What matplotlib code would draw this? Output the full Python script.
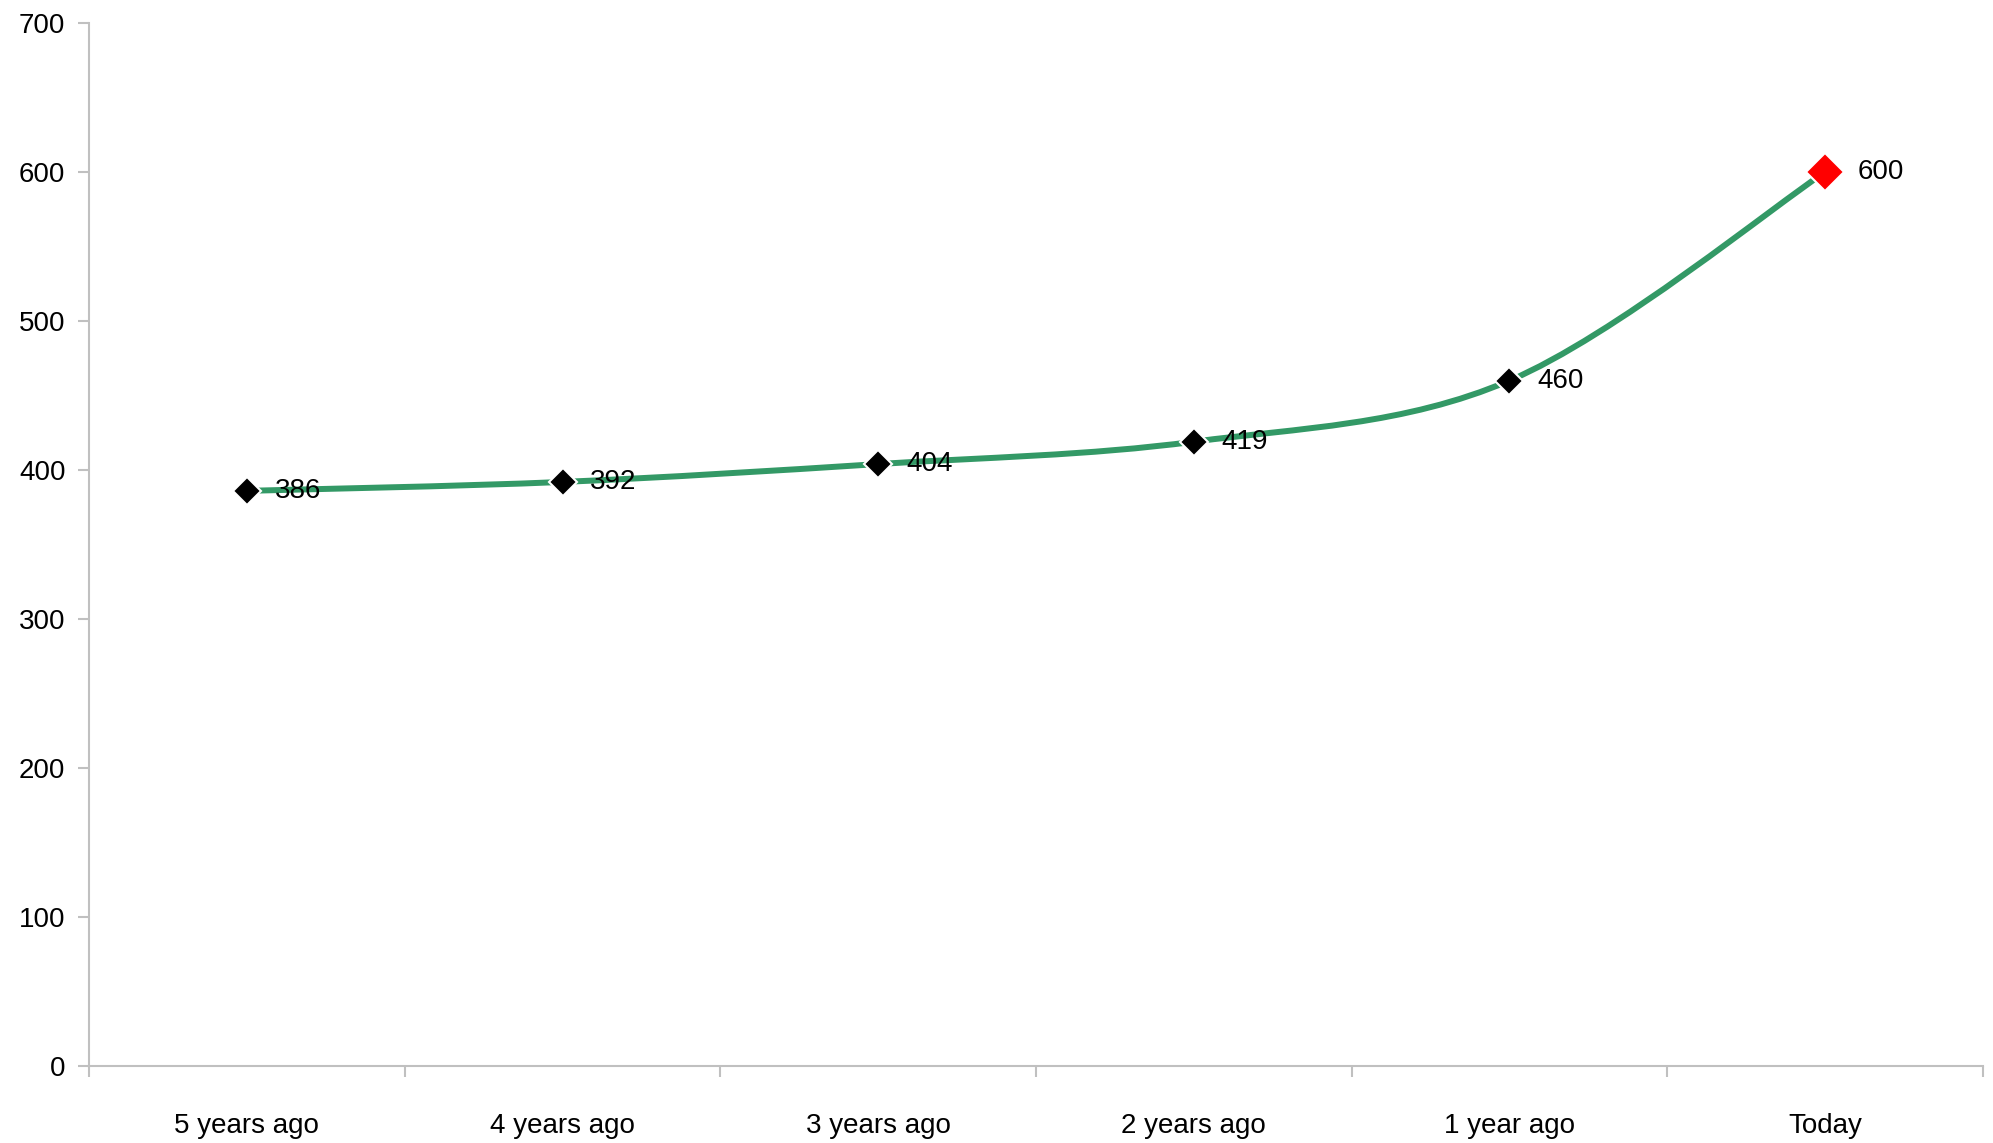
import matplotlib
matplotlib.use("Agg")
import matplotlib.pyplot as plt
import numpy as np
from matplotlib.path import Path
from matplotlib.patches import PathPatch

categories = ["5 years ago", "4 years ago", "3 years ago", "2 years ago", "1 year ago", "Today"]
values = [386, 392, 404, 419, 460, 600]
yticks = [0, 100, 200, 300, 400, 500, 600, 700]

plt.rcParams['font.family'] = ['Liberation Sans', 'DejaVu Sans']
FS = 20

fig = plt.figure(figsize=(19.93, 11.43), dpi=100)
ax = fig.add_axes([89/1993, 1 - 1066/1143, (1983-89)/1993, (1066-23)/1143])

xs = np.arange(len(values), dtype=float)
ys = np.array(values, dtype=float)

# smoothed line (Catmull-Rom style Bezier, like spreadsheet smoothing)
verts = [(xs[0], ys[0])]
codes = [Path.MOVETO]
n = len(xs)
for i in range(n - 1):
    p0 = np.array([xs[max(i-1, 0)], ys[max(i-1, 0)]])
    p1 = np.array([xs[i], ys[i]])
    p2 = np.array([xs[i+1], ys[i+1]])
    p3 = np.array([xs[min(i+2, n-1)], ys[min(i+2, n-1)]])
    c1 = p1 + (p2 - p0) / 6
    c2 = p2 - (p3 - p1) / 6
    verts += [tuple(c1), tuple(c2), tuple(p2)]
    codes += [Path.CURVE4] * 3
patch = PathPatch(Path(verts, codes), facecolor='none', edgecolor='#339966', lw=4.3, zorder=2, capstyle='butt')
ax.add_patch(patch)

for i, v in enumerate(values):
    last = i == len(values) - 1
    ax.plot(xs[i], v, marker='D', ms=(19 if last else 14),
            color=('#ff0000' if last else '#000000'),
            mec='white', mew=1.5, zorder=3)
    ax.annotate(str(v), (xs[i], v), xytext=(23.5 if last else 20, 0),
                textcoords='offset points', va='center', ha='left',
                fontsize=FS, color='black', zorder=4)

ax.set_xlim(-0.5, len(values) - 0.5)
ax.set_ylim(0, 700)
ax.set_yticks(yticks)
ax.set_yticklabels([str(t) for t in yticks])
ax.set_xticks(np.arange(len(values) + 1) - 0.5)
ax.set_xticklabels([])
ax.set_xticks(xs, minor=True)
ax.set_xticklabels(categories, minor=True)
ax.tick_params(axis='x', which='minor', length=0, pad=34, labelsize=FS)
ax.tick_params(axis='x', which='major', length=8, width=1.5, color='#c0c0c0')
ax.tick_params(axis='y', length=8, width=1.5, color='#c0c0c0', labelsize=FS, pad=9)

for s in ['top', 'right']:
    ax.spines[s].set_visible(False)
for s in ['left', 'bottom']:
    ax.spines[s].set_color('#c0c0c0')
    ax.spines[s].set_linewidth(1.5)

fig.savefig("out.png", dpi=100)
